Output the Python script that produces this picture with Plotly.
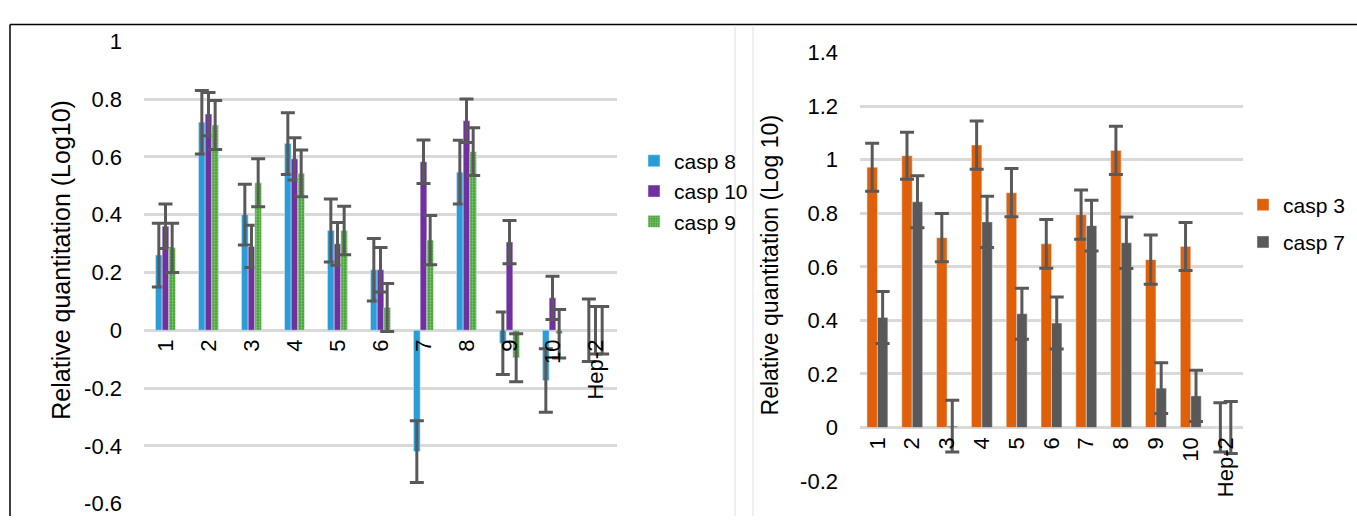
import plotly.graph_objects as go

# ---------------- data ----------------
categories = ["1", "2", "3", "4", "5", "6", "7", "8", "9", "10", "Hep-2"]

casp8 = [0.26, 0.72, 0.40, 0.646, 0.345, 0.209, -0.42, 0.547, -0.045, -0.174, 0.0]
casp8_err = [0.11, 0.11, 0.105, 0.107, 0.109, 0.108, 0.107, 0.11, 0.108, 0.11, 0.108]
casp10 = [0.36, 0.748, 0.29, 0.593, 0.299, 0.209, 0.583, 0.725, 0.305, 0.112, 0.0]
casp10_err = [0.077, 0.075, 0.073, 0.073, 0.074, 0.077, 0.075, 0.075, 0.075, 0.075, 0.082]
casp9 = [0.285, 0.71, 0.51, 0.543, 0.345, 0.079, 0.312, 0.618, -0.095, -0.012, 0.0]
casp9_err = [0.085, 0.085, 0.083, 0.081, 0.084, 0.083, 0.085, 0.083, 0.083, 0.084, 0.082]

casp3 = [0.972, 1.015, 0.709, 1.055, 0.877, 0.686, 0.795, 1.035, 0.627, 0.676, 0.0]
casp3_err = [0.09, 0.088, 0.09, 0.09, 0.09, 0.091, 0.092, 0.09, 0.092, 0.09, 0.092]
casp7 = [0.411, 0.843, 0.005, 0.768, 0.425, 0.39, 0.754, 0.69, 0.147, 0.118, 0.0]
casp7_err = [0.097, 0.097, 0.097, 0.096, 0.095, 0.097, 0.095, 0.096, 0.095, 0.096, 0.097]

left_ticks = [-0.6, -0.4, -0.2, 0, 0.2, 0.4, 0.6, 0.8, 1]
left_ticktext = ["-0.6", "-0.4", "-0.2", "0", "0.2", "0.4", "0.6", "0.8", "1"]
right_ticks = [-0.2, 0, 0.2, 0.4, 0.6, 0.8, 1, 1.2, 1.4]
right_ticktext = ["-0.2", "0", "0.2", "0.4", "0.6", "0.8", "1", "1.2", "1.4"]

# ---------------- figure ----------------
W, H = 1357, 529
FONT = "Liberation Sans, Arial, sans-serif"
ERRC = "#595959"

def px_x(p):
    return p / W

def px_y(p):
    return 1 - p / H

fig = go.Figure()

def err(arr):
    return dict(type="data", array=arr, color=ERRC, thickness=3, width=7, visible=True)

lw = 0.155
fig.add_trace(go.Bar(x=categories, y=casp8, name="casp 8", marker=dict(color="#2A9CD8"),
                     error_y=err(casp8_err), width=lw, offset=-1.5 * lw,
                     xaxis="x", yaxis="y", legend="legend", legendgroup="a"))
fig.add_trace(go.Bar(x=categories, y=casp10, name="casp 10", marker=dict(color="#7030A0"),
                     error_y=err(casp10_err), width=lw, offset=-0.5 * lw,
                     xaxis="x", yaxis="y", legend="legend", legendgroup="b"))
fig.add_trace(go.Bar(x=categories, y=casp9, name="casp 9",
                     marker=dict(color="#4ca63c",
                                 pattern=dict(shape=".", fgcolor="#d6efcc", bgcolor="#46a236",
                                              size=3, solidity=0.35)),
                     error_y=err(casp9_err), width=lw, offset=0.5 * lw,
                     xaxis="x", yaxis="y", legend="legend", legendgroup="c"))

rw = 0.30
fig.add_trace(go.Bar(x=categories, y=casp3, name="casp 3", marker=dict(color="#E0600A"),
                     error_y=err(casp3_err), width=rw, offset=-rw,
                     xaxis="x2", yaxis="y2", legend="legend2", legendgroup="d"))
fig.add_trace(go.Bar(x=categories, y=casp7, name="casp 7", marker=dict(color="#595959"),
                     error_y=err(casp7_err), width=rw, offset=0,
                     xaxis="x2", yaxis="y2", legend="legend2", legendgroup="e"))

# domains
lx0, lx1 = px_x(144), px_x(617)
ly_top, ly_bot = px_y(30.7), px_y(516)
rx0, rx1 = px_x(860), px_x(1243)
ry_top, ry_bot = px_y(42.7), px_y(492.3)

grid = dict(showgrid=True, gridcolor="#d9d9d9", gridwidth=3, zeroline=False,
            showline=False, ticks="", ticklabelstandoff=21)

fig.update_layout(
    width=W, height=H,
    margin=dict(l=0, r=0, t=0, b=0),
    paper_bgcolor="white", plot_bgcolor="white",
    font=dict(family=FONT, color="black", size=22),
    barmode="overlay",
    showlegend=True,
    xaxis=dict(domain=[lx0, lx1], type="category", anchor="free",
               position=px_y(334), showgrid=False, showline=False, ticks="",
               tickangle=-90, tickfont=dict(size=22), ticklabelstandoff=4,
               range=[-0.5, 10.5]),
    yaxis=dict(domain=[ly_bot, ly_top], range=[-0.6, 1], tickvals=left_ticks,
               ticktext=left_ticktext, tickfont=dict(size=22), anchor="x", **grid),
    xaxis2=dict(domain=[rx0, rx1], type="category", anchor="free",
                position=px_y(436.5), showgrid=False, showline=False, ticks="",
                tickangle=-90, tickfont=dict(size=22), ticklabelstandoff=4,
                range=[-0.5, 10.5]),
    yaxis2=dict(domain=[ry_bot, ry_top], range=[-0.2, 1.4], tickvals=right_ticks,
                ticktext=right_ticktext, tickfont=dict(size=22), anchor="x2", **grid),
    legend=dict(x=px_x(634), y=px_y(188), xanchor="left", yanchor="middle",
                font=dict(size=21), bgcolor="rgba(0,0,0,0)", traceorder="normal",
                itemwidth=30, tracegroupgap=0),
    legend2=dict(x=px_x(1243), y=px_y(222), xanchor="left", yanchor="middle",
                 font=dict(size=21), bgcolor="rgba(0,0,0,0)", traceorder="grouped",
                 tracegroupgap=7, itemwidth=30),
    annotations=[
        dict(text="Relative quantitation (Log10)", x=px_x(61), y=px_y(260),
             xref="paper", yref="paper", textangle=-90, showarrow=False,
             xanchor="center", yanchor="middle", font=dict(size=25)),
        dict(text="Relative quantitation (Log 10)", x=px_x(770), y=px_y(266),
             xref="paper", yref="paper", textangle=-90, showarrow=False,
             xanchor="center", yanchor="middle", font=dict(size=23)),
    ],
    shapes=[
        dict(type="line", xref="paper", yref="paper", x0=px_x(10), x1=1,
             y0=px_y(13), y1=px_y(13), line=dict(color="black", width=1.5)),
        dict(type="line", xref="paper", yref="paper", x0=px_x(10), x1=px_x(10),
             y0=0, y1=px_y(13), line=dict(color="black", width=1.5)),
        dict(type="line", xref="paper", yref="paper", x0=px_x(735), x1=px_x(735),
             y0=0, y1=px_y(14), line=dict(color="#e0e0e0", width=1)),
        dict(type="line", xref="paper", yref="paper", x0=px_x(753), x1=px_x(753),
             y0=0, y1=px_y(14), line=dict(color="#e0e0e0", width=1)),
    ],
)

fig.write_html("out.html")
